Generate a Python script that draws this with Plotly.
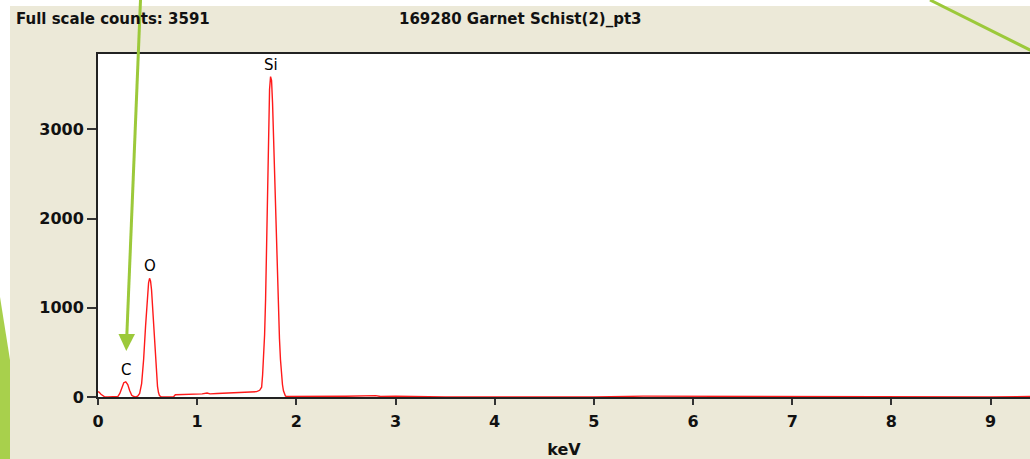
import plotly.graph_objects as go

# ---- data ----
energy_kev = [0.00, 0.01, 0.03, 0.05, 0.07, 0.10, 0.15, 0.20, 0.22, 0.24, 0.26, 0.28, 0.30, 0.32, 0.34,
              0.36, 0.38, 0.40, 0.42, 0.44, 0.46, 0.48, 0.50, 0.51, 0.52, 0.53, 0.54, 0.55, 0.56, 0.57,
              0.58, 0.59, 0.60, 0.61, 0.62, 0.64, 0.70, 0.76, 0.78, 0.85, 0.95, 1.05, 1.10, 1.13, 1.20,
              1.30, 1.40, 1.45, 1.50, 1.55, 1.60, 1.63, 1.64, 1.65, 1.66, 1.67, 1.68, 1.69, 1.70, 1.71,
              1.72, 1.73, 1.74, 1.75, 1.76, 1.77, 1.78, 1.79, 1.80, 1.81, 1.82, 1.83, 1.84, 1.85, 1.86,
              1.87, 1.88, 1.89, 1.90, 2.00, 2.10, 2.20, 2.50, 2.80, 2.85, 3.00, 3.50, 4.00, 4.50, 5.00,
              5.50, 6.00, 6.50, 7.00, 7.50, 8.00, 8.50, 9.00, 9.40]
counts = [60, 55, 30, 10, 0, 0, 0, 5, 40, 100, 160, 170, 140, 70, 20,
          5, 0, 10, 40, 150, 420, 800, 1150, 1280, 1330, 1300, 1200, 1020, 820, 600,
          400, 240, 120, 50, 15, 0, 0, 0, 25, 28, 30, 35, 45, 35, 40,
          45, 50, 60, 55, 65, 60, 75, 90, 110, 250, 450, 700, 1100, 1700, 2300,
          3000, 3450, 3591, 3550, 3300, 2900, 2500, 2100, 1700, 1300, 950, 650, 420, 250, 140,
          70, 30, 12, 5, 5, 12, 5, 8, 15, 5, 10, 0, 0, 0, 0,
          10, 8, 10, 5, 0, 5, 0, 0, 5]

element_labels = ["C", "O", "Si"]
element_energy = [0.28, 0.52, 1.74]
element_counts = [170, 1330, 3591]

y_tick_vals = [0, 1000, 2000, 3000]
x_tick_vals = [0, 1, 2, 3, 4, 5, 6, 7, 8, 9]

title_text = "169280 Garnet Schist(2)_pt3"
full_scale_text = "Full scale counts: 3591"
x_title = "keV"

# ---- layout constants (pixels) ----
W, H = 1030, 459
ML, MR, MT, MB = 98, 0, 54, 62
PW = W - ML - MR
PH = H - MT - MB
BEIGE = "#ECE9D8"
GREEN = "#9CC93A"
GREEN2 = "#A8D04C"
FONT = "DejaVu Sans"


def px(x):
    return (x - ML) / PW


def py(y):
    return (H - MB - y) / PH


fig = go.Figure()
fig.add_trace(go.Scatter(
    x=energy_kev, y=counts, mode="lines",
    line=dict(color="#FF1A1A", width=1.4),
    hoverinfo="x+y", showlegend=False,
))

annotations = []
for lab, ex, cy in zip(element_labels, element_energy, element_counts):
    annotations.append(dict(x=ex, y=cy, xref="x", yref="y", text=lab, showarrow=False,
                            yanchor="bottom", yshift=1,
                            font=dict(family=FONT, size=15, color="#000")))

annotations.append(dict(x=px(14), y=py(19), xref="paper", yref="paper", text=full_scale_text,
                        showarrow=False, xanchor="left", yanchor="middle",
                        font=dict(family=FONT, size=15, color="#111", weight="bold")))
annotations.append(dict(x=px(520), y=py(19), xref="paper", yref="paper", text=title_text,
                        showarrow=False, xanchor="center", yanchor="middle",
                        font=dict(family=FONT, size=15, color="#111", weight="bold")))

shapes = [
    # white strips of the slide around the screenshot
    dict(type="rect", xref="paper", yref="paper", x0=px(0), x1=px(W), y0=py(6), y1=py(0),
         fillcolor="white", line=dict(width=0), layer="above"),
    dict(type="rect", xref="paper", yref="paper", x0=px(0), x1=px(10), y0=py(H), y1=py(0),
         fillcolor="white", line=dict(width=0), layer="above"),
    # green slide decoration on the left edge
    dict(type="path", xref="paper", yref="paper",
         path=f"M {px(0)},{py(297)} L {px(10)},{py(360)} L {px(10)},{py(H)} L {px(0)},{py(H)} Z",
         fillcolor=GREEN2, line=dict(width=0), layer="above"),
    # green arrow pointing to C peak
    dict(type="line", xref="paper", yref="paper", x0=px(140.5), y0=py(0), x1=px(126.8), y1=py(336),
         line=dict(color=GREEN, width=3), layer="above"),
    dict(type="path", xref="paper", yref="paper",
         path=f"M {px(118.5)},{py(334)} L {px(135)},{py(334)} L {px(126.3)},{py(351)} Z",
         fillcolor=GREEN, line=dict(width=0), layer="above"),
    # green line top right
    dict(type="line", xref="paper", yref="paper", x0=px(930), y0=py(0), x1=px(1031), y1=py(50.5),
         line=dict(color=GREEN, width=3), layer="above"),
]

fig.update_layout(
    width=W, height=H,
    margin=dict(l=ML, r=MR, t=MT, b=MB, pad=0),
    paper_bgcolor=BEIGE, plot_bgcolor="white",
    font=dict(family=FONT, size=14, color="#111"),
    showlegend=False,
    annotations=annotations,
    shapes=shapes,
    xaxis=dict(
        range=[0, PW / 99.17], tickvals=x_tick_vals, ticks="outside", ticklen=6, tickwidth=1.5,
        tickcolor="#333", showline=True, linecolor="#222", linewidth=2, mirror=True,
        showgrid=False, zeroline=False, layer="below traces", ticklabelstandoff=3,
        tickfont=dict(family=FONT, size=16, color="#111", weight="bold"),
        title=dict(text=x_title, standoff=14,
                   font=dict(family=FONT, size=16, color="#111", weight="bold")),
        fixedrange=True,
    ),
    yaxis=dict(
        range=[0, PH / 0.0892], tickvals=y_tick_vals, ticks="outside", ticklen=9, tickwidth=1.5,
        tickcolor="#333", showline=True, linecolor="#222", linewidth=2,
        showgrid=False, zeroline=False, layer="below traces",
        tickfont=dict(family=FONT, size=16, color="#111", weight="bold"),
        fixedrange=True,
    ),
)

fig.write_html(
    "out.html",
    config={"displayModeBar": False},
    post_script="document.body.style.margin='0';document.body.style.overflow='hidden';",
)
